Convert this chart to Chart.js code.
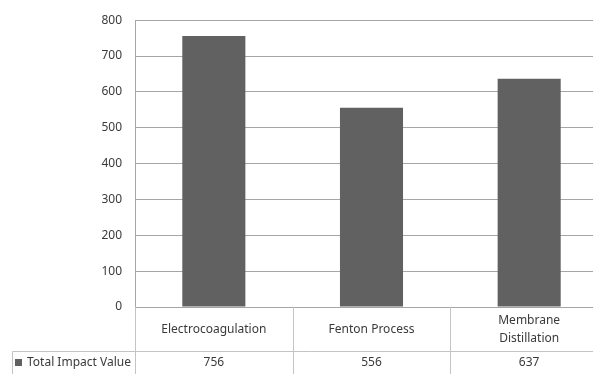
<!DOCTYPE html>
<html>
<head>
<meta charset="utf-8">
<script src="https://cdn.jsdelivr.net/npm/chart.js@4.4.1/dist/chart.umd.min.js"></script>
<style>
html,body{margin:0;padding:0;overflow:hidden;background:#fff}
</style>
</head>
<body>
<canvas id="chart" width="608" height="374"></canvas>
<script>
const categories = [['Electrocoagulation'], ['Fenton Process'], ['Membrane', 'Distillation']];
const seriesName = 'Total Impact Value';
const totalImpact = [756, 556, 637];
const yMin = 0, yMax = 800, yStep = 100;

const barColor = '#616161';
const textColor = '#3a3a3a';
const gridColor = '#a6a6a6';
const tableColor = '#c4c4c4';
const font = '"Noto Sans", "Open Sans", sans-serif';

// draws the Excel style data table under the plot
const dataTable = {
    id:'dataTable',
    afterDraw(chart){
        const {ctx, chartArea, scales:{x}} = chart;
        const H = chart.height;
        const half = (x.getPixelForValue(1) - x.getPixelForValue(0)) / 2;
        const rowY = 351;
        ctx.save();
        ctx.strokeStyle = tableColor;
        ctx.lineWidth = 1;
        ctx.beginPath();
        for(let i=0;i<=categories.length;i++){
            const bx = Math.round(x.getPixelForValue(i) - half) + 0.5;
            ctx.moveTo(bx, chartArea.bottom); ctx.lineTo(bx, H);
        }
        ctx.moveTo(12.5, rowY + 0.5); ctx.lineTo(chart.width, rowY + 0.5);
        ctx.moveTo(12.5, rowY + 0.5); ctx.lineTo(12.5, H);
        ctx.stroke();

        ctx.fillStyle = textColor;
        ctx.font = '12px ' + font;
        ctx.textAlign = 'center';
        ctx.textBaseline = 'middle';
        categories.forEach((lines,i)=>{
            const cx = x.getPixelForValue(i);
            const mid = (chartArea.bottom + rowY) / 2 + 1;
            lines.forEach((t,j)=>{
                ctx.fillText(t, cx, mid + (j - (lines.length-1)/2) * 18);
            });
            ctx.fillText(String(totalImpact[i]), cx, rowY + 12);
        });

        ctx.fillStyle = barColor;
        ctx.fillRect(15, rowY + 8, 7, 7);
        ctx.fillStyle = textColor;
        ctx.textAlign = 'left';
        ctx.fillText(seriesName, 27, rowY + 12);
        ctx.restore();
    }
};

new Chart(document.getElementById('chart'), {
    type:'bar',
    data:{
        labels: categories,
        datasets:[{
            label: seriesName,
            data: totalImpact,
            backgroundColor: barColor,
            borderWidth: 0,
            barPercentage: 0.4,
            categoryPercentage: 1
        }]
    },
    options:{
        responsive:false,
        animation:false,
        layout:{padding:{top:17, left:0, right:0, bottom:0}},
        plugins:{legend:{display:false}, tooltip:{enabled:false}},
        scales:{
            x:{
                offset:true,
                ticks:{display:false},
                grid:{display:false},
                border:{display:false},
                afterFit(scale){ scale.height = 67; }
            },
            y:{
                min:yMin, max:yMax,
                ticks:{stepSize:yStep, color:textColor, font:{family:font, size:12}, padding:13},
                grid:{color:gridColor, drawTicks:false},
                border:{display:true, color:gridColor},
                afterFit(scale){ scale.width = 135; }
            }
        }
    },
    plugins:[dataTable]
});
</script>
</body>
</html>
